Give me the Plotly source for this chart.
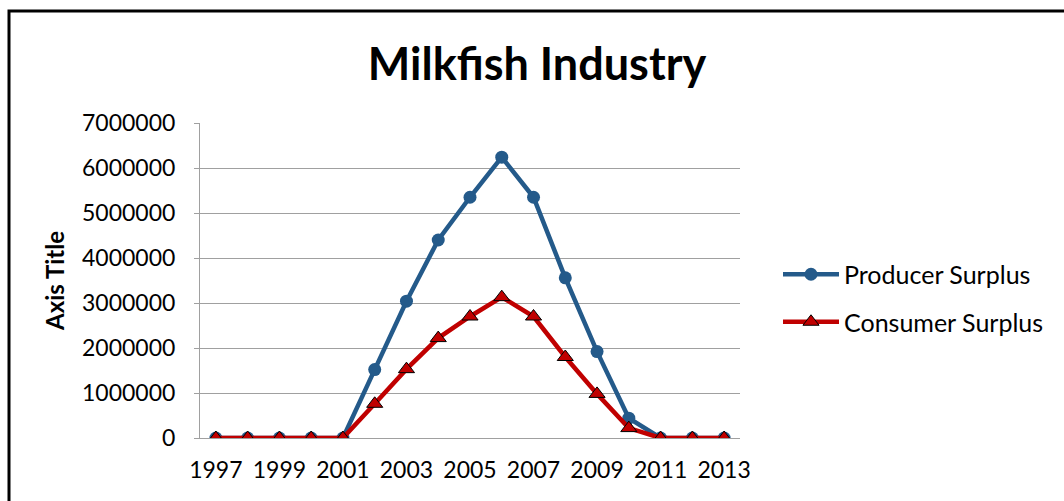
import plotly.graph_objects as go

years = list(range(1997, 2014))
producer = [0, 0, 0, 0, 0, 1520000, 3040000, 4400000, 5350000, 6240000, 5350000, 3560000, 1920000, 440000, 0, 0, 0]
consumer = [0, 0, 0, 0, 0, 760000, 1530000, 2220000, 2700000, 3130000, 2700000, 1800000, 980000, 220000, 0, 0, 0]
tick_years = [y for y in years if (y - 1997) % 2 == 0]
y_ticks = [0, 1000000, 2000000, 3000000, 4000000, 5000000, 6000000, 7000000]

FONT = "Lato"
W, H = 1064, 501
L, R, T, B = 200, 324, 123, 63
pw, ph = W - L - R, H - T - B

def px2x(px):
    return (px - L) / pw

def px2y(py):
    return (H - B - py) / ph

fig = go.Figure()
fig.add_trace(go.Scatter(
    x=years, y=producer, name="Producer Surplus", mode="lines+markers",
    line=dict(color="#245A8A", width=4.5),
    marker=dict(symbol="circle", size=13, color="#245A8A"),
    legendgroup="a",
))
fig.add_trace(go.Scatter(
    x=years, y=consumer, name="Consumer Surplus", mode="lines+markers",
    line=dict(color="#C00000", width=4.5),
    marker=dict(symbol="triangle-up", size=14, color="#C00000",
                line=dict(color="black", width=1)),
    legendgroup="b",
))

fig.update_layout(
    width=W, height=H, autosize=False,
    margin=dict(l=L, r=R, t=T, b=B),
    paper_bgcolor="white", plot_bgcolor="white",
    font=dict(family=FONT, color="black", size=23),
    title=dict(text="<b>Milkfish Industry</b>", x=px2x(537), xref="paper",
               xanchor="center", y=1 - 64 / H, yanchor="middle",
               font=dict(size=45, family=FONT, color="black")),
    showlegend=True,
    legend=dict(x=px2x(778), xanchor="left", y=px2y(298), yanchor="middle",
                traceorder="grouped", tracegroupgap=12, itemwidth=56,
                font=dict(size=25, family=FONT), bgcolor="rgba(0,0,0,0)"),
    xaxis=dict(range=[1996.5, 2013.5], tickmode="array", tickvals=tick_years,
               ticktext=[str(y) for y in tick_years], showgrid=False,
               showline=True, linecolor="#A0A0A0", linewidth=1,
               ticks="", zeroline=False, tickfont=dict(size=23),
               ticklabelstandoff=11),
    yaxis=dict(range=[0, 7000000], tickmode="array", tickvals=y_ticks,
               ticktext=[str(v) for v in y_ticks], showgrid=True,
               gridcolor="#A0A0A0", gridwidth=1, showline=True,
               linecolor="#A0A0A0", linewidth=1, ticks="outside",
               ticklen=5, tickcolor="#A0A0A0", zeroline=False,
               tickfont=dict(size=23), ticklabelstandoff=14,
               title=dict(text="<b>Axis Title</b>", standoff=10,
                          font=dict(size=24, family=FONT))),
)

fig.add_shape(type="rect", xref="paper", yref="paper",
              x0=px2x(9), x1=px2x(1080), y0=px2y(520), y1=px2y(11),
              line=dict(color="black", width=3), fillcolor="rgba(0,0,0,0)",
              layer="above")

fig.write_html("out.html")
